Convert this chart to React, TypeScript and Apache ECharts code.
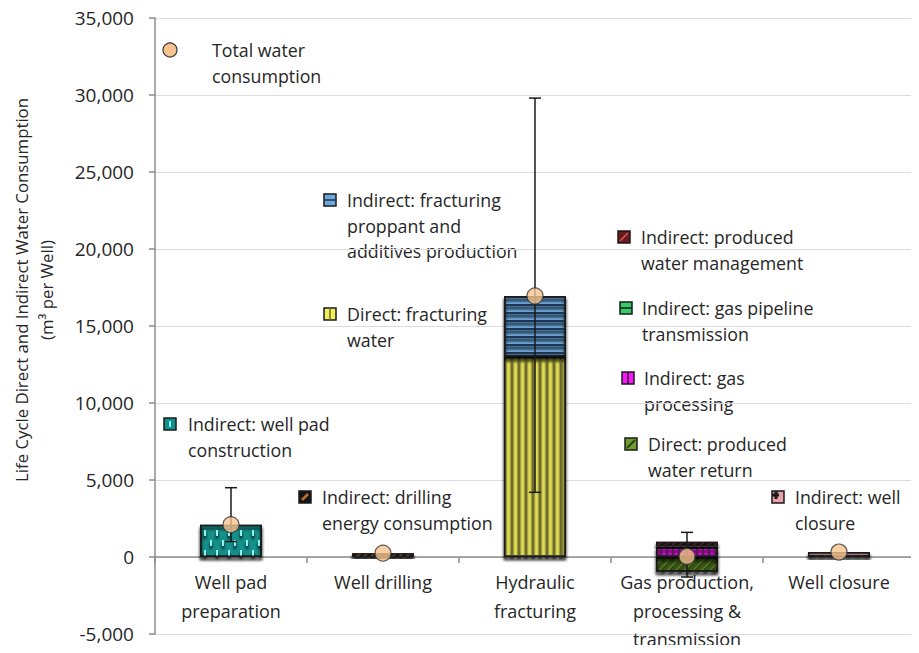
import React, { useEffect, useRef } from "react";
import * as echarts from "echarts";

const categories = [
  "Well pad\npreparation",
  "Well drilling",
  "Hydraulic\nfracturing",
  "Gas production,\nprocessing &\ntransmission",
  "Well closure",
];
const wellPadConstruction = [2100, null, null, null, null];
const drillingEnergy = [null, 250, null, null, null];
const fracturingWater = [null, null, 13000, null, null];
const fracturingProppant = [null, null, 3950, null, null];
const producedWaterReturn = [null, null, null, -950, null];
const gasProcessing = [null, null, null, 650, null];
const gasPipeline = [null, null, null, 40, null];
const producedWaterMgmt = [null, null, null, 300, null];
const wellClosure = [null, null, null, null, 320];
const totals = [2100, 250, 16950, 40, 320];
const errLow = [1000, null, 4200, -1300, null];
const errHigh = [4500, null, 29800, 1600, null];
const yMin = -5000;
const yMax = 35000;
const yStep = 5000;

const FONT = "Open Sans";
const TEXT = "#262626";

export default function App() {
  const ref = useRef<HTMLDivElement>(null);
  useEffect(() => {
    if (!ref.current) return;
    const chart = echarts.init(ref.current, null, { renderer: "svg" });
    const border = { borderColor: "#1a1a1a", borderWidth: 1.5 };
    const shadow = { shadowColor: "rgba(0,0,0,0.35)", shadowBlur: 3, shadowOffsetY: 3 };
    const bar = (name: string, data: any[], color: string, decal: any) => ({
      name,
      type: "bar",
      stack: "total",
      barWidth: 62,
      data,
      z: 2,
      itemStyle: { color, decal, ...border, ...shadow },
    });

    const series: any[] = [
      bar("Indirect: well pad construction", wellPadConstruction, "#12908b", {
        symbol: "rect", symbolSize: 1, color: "#8ff3ee",
        dashArrayX: [[2, 10], [0, 6, 2, 4]], dashArrayY: [6, 4],
      }),
      bar("Indirect: drilling energy consumption", drillingEnergy, "#151515", {
        symbol: "rect", symbolSize: 1, color: "#c8702a", rotation: -Math.PI / 4,
        dashArrayX: [10, 0], dashArrayY: [2, 3],
      }),
      bar("Direct: fracturing water", fracturingWater, "#f2ef5a", {
        symbol: "rect", symbolSize: 1, color: "#6d6a30",
        dashArrayX: [1.5, 4.6], dashArrayY: [10, 0],
      }),
      bar("Indirect: fracturing proppant and additives production", fracturingProppant, "#6ea8dc", {
        symbol: "rect", symbolSize: 1, color: "#1e3552",
        dashArrayX: [10, 0], dashArrayY: [1.6, 5.8],
      }),
      bar("Direct: produced water return", producedWaterReturn, "#6f9c2e", {
        symbol: "rect", symbolSize: 1, color: "#2a4410", rotation: -Math.PI / 4,
        dashArrayX: [10, 0], dashArrayY: [2, 4],
      }),
      bar("Indirect: gas processing", gasProcessing, "#ff14ff", {
        symbol: "rect", symbolSize: 1, color: "#5a1f5a",
        dashArrayX: [2, 4], dashArrayY: [10, 0],
      }),
      bar("Indirect: gas pipeline transmission", gasPipeline, "#33cc66", null),
      bar("Indirect: produced water management", producedWaterMgmt, "#140606", {
        symbol: "rect", symbolSize: 1, color: "#6a1c1c", rotation: -Math.PI / 4,
        dashArrayX: [10, 0], dashArrayY: [2, 3],
      }),
      bar("Indirect: well closure", wellClosure, "#e7a2a8", {
        symbol: "rect", symbolSize: 1, color: "#1a1a1a",
        dashArrayX: [5, 4], dashArrayY: [2, 3],
      }),
      {
        name: "Range",
        type: "custom",
        z: 3,
        data: categories.map((_, i) => [i, errLow[i], errHigh[i]]).filter((d) => d[1] !== null),
        encode: { x: 0, y: [1, 2] },
        renderItem: (params: any, api: any) => {
          const lo = api.coord([api.value(0), api.value(1)]);
          const hi = api.coord([api.value(0), api.value(2)]);
          const st = { stroke: "#1a1a1a", lineWidth: 1.5 };
          const w = 6;
          return {
            type: "group",
            children: [
              { type: "line", shape: { x1: lo[0], y1: lo[1], x2: hi[0], y2: hi[1] }, style: st },
              { type: "line", shape: { x1: lo[0] - w, y1: lo[1], x2: lo[0] + w, y2: lo[1] }, style: st },
              { type: "line", shape: { x1: hi[0] - w, y1: hi[1], x2: hi[0] + w, y2: hi[1] }, style: st },
            ],
          };
        },
      },
      {
        name: "Total water consumption",
        type: "scatter",
        z: 4,
        symbol: "circle",
        symbolSize: 16,
        data: totals,
        itemStyle: { color: "#f8c38e", borderColor: "#333", borderWidth: 1.2 },
      },
    ];

    const legendText = (x: number, y: number, text: string) => ({
      type: "text",
      x,
      y: y - 12.5,
      style: {
        text,
        font: `17.8px ${FONT}`,
        fill: TEXT,
        lineHeight: 25.5,
        textVerticalAlign: "top",
        textAlign: "left",
      },
    });
    const marker = (x: number, y: number, fill: string, extra: any[] = []) => ({
      type: "group",
      x: x - 6,
      y: y - 6,
      children: [
        { type: "rect", shape: { x: 0, y: 0, width: 12, height: 12 }, style: { fill, stroke: "#1a1a1a", lineWidth: 1.5 } },
        ...extra,
      ],
    });
    const ln = (x1: number, y1: number, x2: number, y2: number, stroke: string, lw = 1.5) => ({
      type: "line",
      shape: { x1, y1, x2, y2 },
      style: { stroke, lineWidth: lw },
    });

    const graphic: any[] = [
      {
        type: "text",
        x: 34,
        y: 290,
        rotation: Math.PI / 2,
        style: {
          text: "Life Cycle Direct and Indirect Water Consumption\n(m³ per Well)",
          font: `16.8px ${FONT}`,
          fill: TEXT,
          lineHeight: 25,
          textAlign: "center",
          textVerticalAlign: "middle",
        },
      },
      { type: "circle", shape: { cx: 170, cy: 50, r: 7 }, style: { fill: "#f8c38e", stroke: "#333", lineWidth: 1.2 } },
      legendText(212, 50, "Total water\nconsumption"),
      marker(170, 424, "#12908b", [ln(6, 3, 6, 9, "#8ff3ee", 2)]),
      legendText(188, 424, "Indirect: well pad\nconstruction"),
      marker(305, 497, "#151515", [ln(3, 9, 9, 3, "#c8702a", 2.5)]),
      legendText(322, 497, "Indirect: drilling\nenergy consumption"),
      marker(330, 200, "#6ea8dc", [ln(0, 6, 12, 6, "#1e3552", 1.5)]),
      legendText(347, 200, "Indirect: fracturing\nproppant and\nadditives production"),
      marker(330, 314, "#f2ef5a", [ln(6, 0, 6, 12, "#6d6a30", 1.5)]),
      legendText(347, 314, "Direct: fracturing\nwater"),
      marker(624, 237, "#6a1c1c", [ln(2, 10, 10, 2, "#e05a5a", 1.5)]),
      legendText(641, 237, "Indirect: produced\nwater management"),
      marker(626, 308, "#33cc66", [ln(0, 6, 12, 6, "#1a1a1a", 1.5)]),
      legendText(642, 308, "Indirect: gas pipeline\ntransmission"),
      marker(628, 378, "#ff14ff", [ln(6, 0, 6, 12, "#1a1a1a", 1.5)]),
      legendText(644, 378, "Indirect: gas\nprocessing"),
      marker(631, 444, "#6f9c2e", [ln(2, 10, 10, 2, "#2a4410", 2)]),
      legendText(648, 444, "Direct: produced\nwater return"),
      marker(778, 497, "#e7a2a8", [ln(0, 4, 7, 4, "#1a1a1a", 3), ln(4, 0, 4, 8, "#1a1a1a", 3)]),
      legendText(795, 497, "Indirect: well\nclosure"),
    ];

    chart.setOption({
      animation: false,
      backgroundColor: "#ffffff",
      textStyle: { fontFamily: FONT },
      grid: { left: 155, right: 4, top: 18, bottom: 19, containLabel: false, outerBoundsMode: "none" },
      xAxis: {
        type: "category",
        data: categories,
        axisLine: { onZero: true, lineStyle: { color: "#8c8c8c", width: 1.5 } },
        axisTick: { show: true, length: 6, lineStyle: { color: "#8c8c8c", width: 1.5 } },
        axisLabel: { interval: 0, color: TEXT, fontSize: 18, lineHeight: 28.5, margin: -66, fontFamily: FONT },
        splitLine: { show: false },
      },
      yAxis: {
        type: "value",
        min: yMin,
        max: yMax,
        interval: yStep,
        axisLine: { show: true, lineStyle: { color: "#8c8c8c", width: 1.5 } },
        axisTick: { show: true, length: 6, lineStyle: { color: "#8c8c8c", width: 1.5 } },
        axisLabel: {
          color: TEXT,
          fontSize: 19,
          margin: 21,
          fontFamily: FONT,
          formatter: (v: number) => v.toLocaleString("en-US"),
        },
        splitLine: { show: true, lineStyle: { color: "#dcdcdc", width: 1 } },
      },
      series,
      graphic,
    });
    return () => chart.dispose();
  }, []);
  return <div ref={ref} style={{ width: 919, height: 653, margin: -8 }} />;
}
